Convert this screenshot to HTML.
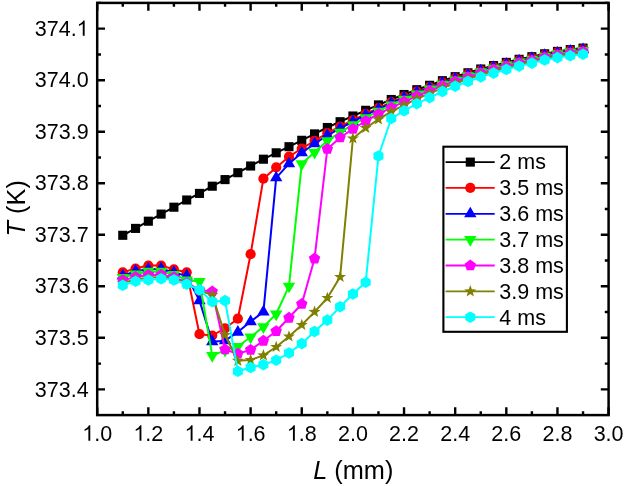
<!DOCTYPE html>
<html><head><meta charset="utf-8"><title>T vs L</title>
<style>html,body{margin:0;padding:0;background:#fff;}body{width:626px;height:486px;overflow:hidden;position:relative;font-family:"Liberation Sans",sans-serif;}</style>
</head><body>
<svg width="626" height="486" viewBox="0 0 626 486" style="position:absolute;left:0;top:0;will-change:transform;transform:translateZ(0)">
<rect width="626" height="486" fill="#fff"/>
<polyline points="122.77,235.30 135.55,228.40 148.34,221.20 161.12,214.10 173.91,207.20 186.70,200.00 199.48,193.40 212.26,186.20 225.05,179.60 237.84,172.70 250.62,166.00 263.40,159.20 276.19,152.80 288.98,146.70 301.76,140.30 314.55,133.90 327.33,127.50 340.12,121.70 352.90,116.00 365.68,110.30 378.47,104.90 391.25,99.50 404.04,94.50 416.82,89.70 429.61,85.30 442.40,80.70 455.18,76.70 467.97,72.80 480.75,69.00 493.53,65.60 506.32,62.40 519.11,59.30 531.89,56.70 544.68,53.80 557.46,51.40 570.25,49.60 583.03,48.10" fill="none" stroke="#000000" stroke-width="2" stroke-linejoin="round"/>
<rect x="118.22" y="230.75" width="9.10" height="9.10" fill="#000000"/>
<rect x="131.00" y="223.85" width="9.10" height="9.10" fill="#000000"/>
<rect x="143.79" y="216.65" width="9.10" height="9.10" fill="#000000"/>
<rect x="156.57" y="209.55" width="9.10" height="9.10" fill="#000000"/>
<rect x="169.36" y="202.65" width="9.10" height="9.10" fill="#000000"/>
<rect x="182.15" y="195.45" width="9.10" height="9.10" fill="#000000"/>
<rect x="194.93" y="188.85" width="9.10" height="9.10" fill="#000000"/>
<rect x="207.71" y="181.65" width="9.10" height="9.10" fill="#000000"/>
<rect x="220.50" y="175.05" width="9.10" height="9.10" fill="#000000"/>
<rect x="233.29" y="168.15" width="9.10" height="9.10" fill="#000000"/>
<rect x="246.07" y="161.45" width="9.10" height="9.10" fill="#000000"/>
<rect x="258.85" y="154.65" width="9.10" height="9.10" fill="#000000"/>
<rect x="271.64" y="148.25" width="9.10" height="9.10" fill="#000000"/>
<rect x="284.43" y="142.15" width="9.10" height="9.10" fill="#000000"/>
<rect x="297.21" y="135.75" width="9.10" height="9.10" fill="#000000"/>
<rect x="310.00" y="129.35" width="9.10" height="9.10" fill="#000000"/>
<rect x="322.78" y="122.95" width="9.10" height="9.10" fill="#000000"/>
<rect x="335.56" y="117.15" width="9.10" height="9.10" fill="#000000"/>
<rect x="348.35" y="111.45" width="9.10" height="9.10" fill="#000000"/>
<rect x="361.13" y="105.75" width="9.10" height="9.10" fill="#000000"/>
<rect x="373.92" y="100.35" width="9.10" height="9.10" fill="#000000"/>
<rect x="386.70" y="94.95" width="9.10" height="9.10" fill="#000000"/>
<rect x="399.49" y="89.95" width="9.10" height="9.10" fill="#000000"/>
<rect x="412.27" y="85.15" width="9.10" height="9.10" fill="#000000"/>
<rect x="425.06" y="80.75" width="9.10" height="9.10" fill="#000000"/>
<rect x="437.85" y="76.15" width="9.10" height="9.10" fill="#000000"/>
<rect x="450.63" y="72.15" width="9.10" height="9.10" fill="#000000"/>
<rect x="463.42" y="68.25" width="9.10" height="9.10" fill="#000000"/>
<rect x="476.20" y="64.45" width="9.10" height="9.10" fill="#000000"/>
<rect x="488.98" y="61.05" width="9.10" height="9.10" fill="#000000"/>
<rect x="501.77" y="57.85" width="9.10" height="9.10" fill="#000000"/>
<rect x="514.56" y="54.75" width="9.10" height="9.10" fill="#000000"/>
<rect x="527.34" y="52.15" width="9.10" height="9.10" fill="#000000"/>
<rect x="540.13" y="49.25" width="9.10" height="9.10" fill="#000000"/>
<rect x="552.91" y="46.85" width="9.10" height="9.10" fill="#000000"/>
<rect x="565.70" y="45.05" width="9.10" height="9.10" fill="#000000"/>
<rect x="578.48" y="43.55" width="9.10" height="9.10" fill="#000000"/>
<polyline points="122.77,272.40 135.55,268.50 148.34,265.50 161.12,265.50 173.91,269.40 186.70,272.30 199.48,334.20 212.26,335.50 225.05,328.30 237.84,318.70 250.62,254.20 263.40,178.70 276.19,167.40 288.98,156.70 301.76,148.50 314.55,140.80 327.33,133.20 340.12,126.50 352.90,120.10 365.68,113.90 378.47,108.10 391.25,102.21 404.04,96.82 416.82,91.72 429.61,87.08 442.40,82.29 455.18,78.15 467.97,74.13 480.75,70.25 493.53,66.78 506.32,63.53 519.11,60.39 531.89,57.76 544.68,54.84 557.46,52.42 570.25,50.61 583.03,49.10" fill="none" stroke="#ff0000" stroke-width="2" stroke-linejoin="round"/>
<circle cx="122.77" cy="272.40" r="5.1" fill="#ff0000"/>
<circle cx="135.55" cy="268.50" r="5.1" fill="#ff0000"/>
<circle cx="148.34" cy="265.50" r="5.1" fill="#ff0000"/>
<circle cx="161.12" cy="265.50" r="5.1" fill="#ff0000"/>
<circle cx="173.91" cy="269.40" r="5.1" fill="#ff0000"/>
<circle cx="186.70" cy="272.30" r="5.1" fill="#ff0000"/>
<circle cx="199.48" cy="334.20" r="5.1" fill="#ff0000"/>
<circle cx="212.26" cy="335.50" r="5.1" fill="#ff0000"/>
<circle cx="225.05" cy="328.30" r="5.1" fill="#ff0000"/>
<circle cx="237.84" cy="318.70" r="5.1" fill="#ff0000"/>
<circle cx="250.62" cy="254.20" r="5.1" fill="#ff0000"/>
<circle cx="263.40" cy="178.70" r="5.1" fill="#ff0000"/>
<circle cx="276.19" cy="167.40" r="5.1" fill="#ff0000"/>
<circle cx="288.98" cy="156.70" r="5.1" fill="#ff0000"/>
<circle cx="301.76" cy="148.50" r="5.1" fill="#ff0000"/>
<circle cx="314.55" cy="140.80" r="5.1" fill="#ff0000"/>
<circle cx="327.33" cy="133.20" r="5.1" fill="#ff0000"/>
<circle cx="340.12" cy="126.50" r="5.1" fill="#ff0000"/>
<circle cx="352.90" cy="120.10" r="5.1" fill="#ff0000"/>
<circle cx="365.68" cy="113.90" r="5.1" fill="#ff0000"/>
<circle cx="378.47" cy="108.10" r="5.1" fill="#ff0000"/>
<circle cx="391.25" cy="102.21" r="5.1" fill="#ff0000"/>
<circle cx="404.04" cy="96.82" r="5.1" fill="#ff0000"/>
<circle cx="416.82" cy="91.72" r="5.1" fill="#ff0000"/>
<circle cx="429.61" cy="87.08" r="5.1" fill="#ff0000"/>
<circle cx="442.40" cy="82.29" r="5.1" fill="#ff0000"/>
<circle cx="455.18" cy="78.15" r="5.1" fill="#ff0000"/>
<circle cx="467.97" cy="74.13" r="5.1" fill="#ff0000"/>
<circle cx="480.75" cy="70.25" r="5.1" fill="#ff0000"/>
<circle cx="493.53" cy="66.78" r="5.1" fill="#ff0000"/>
<circle cx="506.32" cy="63.53" r="5.1" fill="#ff0000"/>
<circle cx="519.11" cy="60.39" r="5.1" fill="#ff0000"/>
<circle cx="531.89" cy="57.76" r="5.1" fill="#ff0000"/>
<circle cx="544.68" cy="54.84" r="5.1" fill="#ff0000"/>
<circle cx="557.46" cy="52.42" r="5.1" fill="#ff0000"/>
<circle cx="570.25" cy="50.61" r="5.1" fill="#ff0000"/>
<circle cx="583.03" cy="49.10" r="5.1" fill="#ff0000"/>
<polyline points="122.77,275.80 135.55,271.20 148.34,269.20 161.12,268.70 173.91,272.50 186.70,275.90 199.48,300.60 212.26,341.70 225.05,340.70 237.84,332.10 250.62,321.60 263.40,311.90 276.19,177.80 288.98,163.70 301.76,152.80 314.55,143.70 327.33,135.50 340.12,128.30 352.90,121.60 365.68,115.10 378.47,109.10 391.25,103.12 404.04,97.66 416.82,92.50 429.61,87.82 442.40,83.00 455.18,78.83 467.97,74.79 480.75,70.89 493.53,67.41 506.32,64.15 519.11,61.00 531.89,58.37 544.68,55.44 557.46,53.02 570.25,51.21 583.03,49.70" fill="none" stroke="#0000ff" stroke-width="2" stroke-linejoin="round"/>
<polygon points="122.77,268.67 128.97,279.37 116.57,279.37" fill="#0000ff"/>
<polygon points="135.55,264.07 141.75,274.77 129.35,274.77" fill="#0000ff"/>
<polygon points="148.34,262.07 154.54,272.77 142.14,272.77" fill="#0000ff"/>
<polygon points="161.12,261.57 167.32,272.27 154.93,272.27" fill="#0000ff"/>
<polygon points="173.91,265.37 180.11,276.07 167.71,276.07" fill="#0000ff"/>
<polygon points="186.70,268.77 192.90,279.47 180.50,279.47" fill="#0000ff"/>
<polygon points="199.48,293.47 205.68,304.17 193.28,304.17" fill="#0000ff"/>
<polygon points="212.26,334.57 218.46,345.27 206.06,345.27" fill="#0000ff"/>
<polygon points="225.05,333.57 231.25,344.27 218.85,344.27" fill="#0000ff"/>
<polygon points="237.84,324.97 244.04,335.67 231.64,335.67" fill="#0000ff"/>
<polygon points="250.62,314.47 256.82,325.17 244.42,325.17" fill="#0000ff"/>
<polygon points="263.40,304.77 269.60,315.47 257.20,315.47" fill="#0000ff"/>
<polygon points="276.19,170.67 282.39,181.37 269.99,181.37" fill="#0000ff"/>
<polygon points="288.98,156.57 295.18,167.27 282.78,167.27" fill="#0000ff"/>
<polygon points="301.76,145.67 307.96,156.37 295.56,156.37" fill="#0000ff"/>
<polygon points="314.55,136.57 320.75,147.27 308.35,147.27" fill="#0000ff"/>
<polygon points="327.33,128.37 333.53,139.07 321.13,139.07" fill="#0000ff"/>
<polygon points="340.12,121.17 346.31,131.87 333.92,131.87" fill="#0000ff"/>
<polygon points="352.90,114.47 359.10,125.17 346.70,125.17" fill="#0000ff"/>
<polygon points="365.68,107.97 371.88,118.67 359.48,118.67" fill="#0000ff"/>
<polygon points="378.47,101.97 384.67,112.67 372.27,112.67" fill="#0000ff"/>
<polygon points="391.25,95.99 397.45,106.69 385.06,106.69" fill="#0000ff"/>
<polygon points="404.04,90.53 410.24,101.23 397.84,101.23" fill="#0000ff"/>
<polygon points="416.82,85.37 423.02,96.07 410.62,96.07" fill="#0000ff"/>
<polygon points="429.61,80.69 435.81,91.39 423.41,91.39" fill="#0000ff"/>
<polygon points="442.40,75.87 448.60,86.57 436.20,86.57" fill="#0000ff"/>
<polygon points="455.18,71.69 461.38,82.39 448.98,82.39" fill="#0000ff"/>
<polygon points="467.97,67.66 474.17,78.36 461.77,78.36" fill="#0000ff"/>
<polygon points="480.75,63.76 486.95,74.46 474.55,74.46" fill="#0000ff"/>
<polygon points="493.53,60.28 499.73,70.98 487.33,70.98" fill="#0000ff"/>
<polygon points="506.32,57.02 512.52,67.72 500.12,67.72" fill="#0000ff"/>
<polygon points="519.11,53.87 525.31,64.57 512.90,64.57" fill="#0000ff"/>
<polygon points="531.89,51.24 538.09,61.94 525.69,61.94" fill="#0000ff"/>
<polygon points="544.68,48.31 550.88,59.01 538.48,59.01" fill="#0000ff"/>
<polygon points="557.46,45.89 563.66,56.59 551.26,56.59" fill="#0000ff"/>
<polygon points="570.25,44.08 576.45,54.78 564.05,54.78" fill="#0000ff"/>
<polygon points="583.03,42.57 589.23,53.27 576.83,53.27" fill="#0000ff"/>
<polyline points="122.77,277.60 135.55,274.00 148.34,271.40 161.12,271.40 173.91,274.60 186.70,280.00 199.48,281.60 212.26,355.60 225.05,350.40 237.84,346.50 250.62,337.00 263.40,326.90 276.19,314.00 288.98,286.20 301.76,163.80 314.55,152.30 327.33,140.80 340.12,132.40 352.90,124.70 365.68,117.70 378.47,111.20 391.25,104.95 404.04,99.29 416.82,93.96 429.61,89.15 442.40,84.22 455.18,79.97 467.97,75.88 480.75,71.92 493.53,68.41 506.32,65.12 519.11,61.95 531.89,59.30 544.68,56.36 557.46,53.93 570.25,52.11 583.03,50.60" fill="none" stroke="#00ff00" stroke-width="2" stroke-linejoin="round"/>
<polygon points="122.77,284.73 128.97,274.03 116.57,274.03" fill="#00ff00"/>
<polygon points="135.55,281.13 141.75,270.43 129.35,270.43" fill="#00ff00"/>
<polygon points="148.34,278.53 154.54,267.83 142.14,267.83" fill="#00ff00"/>
<polygon points="161.12,278.53 167.32,267.83 154.93,267.83" fill="#00ff00"/>
<polygon points="173.91,281.73 180.11,271.03 167.71,271.03" fill="#00ff00"/>
<polygon points="186.70,287.13 192.90,276.43 180.50,276.43" fill="#00ff00"/>
<polygon points="199.48,288.73 205.68,278.03 193.28,278.03" fill="#00ff00"/>
<polygon points="212.26,362.73 218.46,352.03 206.06,352.03" fill="#00ff00"/>
<polygon points="225.05,357.53 231.25,346.83 218.85,346.83" fill="#00ff00"/>
<polygon points="237.84,353.63 244.04,342.93 231.64,342.93" fill="#00ff00"/>
<polygon points="250.62,344.13 256.82,333.43 244.42,333.43" fill="#00ff00"/>
<polygon points="263.40,334.03 269.60,323.33 257.20,323.33" fill="#00ff00"/>
<polygon points="276.19,321.13 282.39,310.43 269.99,310.43" fill="#00ff00"/>
<polygon points="288.98,293.33 295.18,282.63 282.78,282.63" fill="#00ff00"/>
<polygon points="301.76,170.93 307.96,160.23 295.56,160.23" fill="#00ff00"/>
<polygon points="314.55,159.43 320.75,148.73 308.35,148.73" fill="#00ff00"/>
<polygon points="327.33,147.93 333.53,137.23 321.13,137.23" fill="#00ff00"/>
<polygon points="340.12,139.53 346.31,128.83 333.92,128.83" fill="#00ff00"/>
<polygon points="352.90,131.83 359.10,121.13 346.70,121.13" fill="#00ff00"/>
<polygon points="365.68,124.83 371.88,114.13 359.48,114.13" fill="#00ff00"/>
<polygon points="378.47,118.33 384.67,107.63 372.27,107.63" fill="#00ff00"/>
<polygon points="391.25,112.09 397.45,101.39 385.06,101.39" fill="#00ff00"/>
<polygon points="404.04,106.42 410.24,95.72 397.84,95.72" fill="#00ff00"/>
<polygon points="416.82,101.09 423.02,90.39 410.62,90.39" fill="#00ff00"/>
<polygon points="429.61,96.28 435.81,85.58 423.41,85.58" fill="#00ff00"/>
<polygon points="442.40,91.36 448.60,80.66 436.20,80.66" fill="#00ff00"/>
<polygon points="455.18,87.10 461.38,76.40 448.98,76.40" fill="#00ff00"/>
<polygon points="467.97,83.01 474.17,72.31 461.77,72.31" fill="#00ff00"/>
<polygon points="480.75,79.06 486.95,68.36 474.55,68.36" fill="#00ff00"/>
<polygon points="493.53,75.54 499.73,64.84 487.33,64.84" fill="#00ff00"/>
<polygon points="506.32,72.25 512.52,61.55 500.12,61.55" fill="#00ff00"/>
<polygon points="519.11,69.08 525.31,58.38 512.90,58.38" fill="#00ff00"/>
<polygon points="531.89,66.43 538.09,55.73 525.69,55.73" fill="#00ff00"/>
<polygon points="544.68,63.50 550.88,52.80 538.48,52.80" fill="#00ff00"/>
<polygon points="557.46,61.07 563.66,50.37 551.26,50.37" fill="#00ff00"/>
<polygon points="570.25,59.25 576.45,48.55 564.05,48.55" fill="#00ff00"/>
<polygon points="583.03,57.73 589.23,47.03 576.83,47.03" fill="#00ff00"/>
<polyline points="122.77,280.20 135.55,277.10 148.34,275.10 161.12,274.80 173.91,277.20 186.70,283.00 199.48,289.90 212.26,291.50 225.05,349.50 237.84,353.70 250.62,349.90 263.40,340.80 276.19,331.20 288.98,317.80 301.76,304.00 314.55,258.60 327.33,149.00 340.12,137.50 352.90,129.00 365.68,121.00 378.47,114.00 391.25,107.70 404.04,101.80 416.82,96.07 429.61,90.97 442.40,85.83 455.18,81.42 467.97,77.21 480.75,73.18 493.53,69.61 506.32,66.29 519.11,63.09 531.89,60.42 544.68,57.48 557.46,55.04 570.25,53.22 583.03,51.70" fill="none" stroke="#ff00ff" stroke-width="2" stroke-linejoin="round"/>
<polygon points="122.77,274.20 128.48,278.35 126.30,285.05 119.24,285.05 117.06,278.35" fill="#ff00ff"/>
<polygon points="135.55,271.10 141.26,275.25 139.08,281.95 132.03,281.95 129.85,275.25" fill="#ff00ff"/>
<polygon points="148.34,269.10 154.05,273.25 151.87,279.95 144.81,279.95 142.63,273.25" fill="#ff00ff"/>
<polygon points="161.12,268.80 166.83,272.95 164.65,279.65 157.60,279.65 155.42,272.95" fill="#ff00ff"/>
<polygon points="173.91,271.20 179.62,275.35 177.44,282.05 170.38,282.05 168.20,275.35" fill="#ff00ff"/>
<polygon points="186.70,277.00 192.40,281.15 190.22,287.85 183.17,287.85 180.99,281.15" fill="#ff00ff"/>
<polygon points="199.48,283.90 205.19,288.05 203.01,294.75 195.95,294.75 193.77,288.05" fill="#ff00ff"/>
<polygon points="212.26,285.50 217.97,289.65 215.79,296.35 208.74,296.35 206.56,289.65" fill="#ff00ff"/>
<polygon points="225.05,343.50 230.76,347.65 228.58,354.35 221.52,354.35 219.34,347.65" fill="#ff00ff"/>
<polygon points="237.84,347.70 243.54,351.85 241.36,358.55 234.31,358.55 232.13,351.85" fill="#ff00ff"/>
<polygon points="250.62,343.90 256.33,348.05 254.15,354.75 247.09,354.75 244.91,348.05" fill="#ff00ff"/>
<polygon points="263.40,334.80 269.11,338.95 266.93,345.65 259.88,345.65 257.70,338.95" fill="#ff00ff"/>
<polygon points="276.19,325.20 281.90,329.35 279.72,336.05 272.66,336.05 270.48,329.35" fill="#ff00ff"/>
<polygon points="288.98,311.80 294.68,315.95 292.50,322.65 285.45,322.65 283.27,315.95" fill="#ff00ff"/>
<polygon points="301.76,298.00 307.47,302.15 305.29,308.85 298.23,308.85 296.05,302.15" fill="#ff00ff"/>
<polygon points="314.55,252.60 320.25,256.75 318.07,263.45 311.02,263.45 308.84,256.75" fill="#ff00ff"/>
<polygon points="327.33,143.00 333.04,147.15 330.86,153.85 323.80,153.85 321.62,147.15" fill="#ff00ff"/>
<polygon points="340.12,131.50 345.82,135.65 343.64,142.35 336.59,142.35 334.41,135.65" fill="#ff00ff"/>
<polygon points="352.90,123.00 358.61,127.15 356.43,133.85 349.37,133.85 347.19,127.15" fill="#ff00ff"/>
<polygon points="365.68,115.00 371.39,119.15 369.21,125.85 362.16,125.85 359.98,119.15" fill="#ff00ff"/>
<polygon points="378.47,108.00 384.18,112.15 382.00,118.85 374.94,118.85 372.76,112.15" fill="#ff00ff"/>
<polygon points="391.25,101.70 396.96,105.85 394.78,112.55 387.73,112.55 385.55,105.85" fill="#ff00ff"/>
<polygon points="404.04,95.80 409.75,99.95 407.57,106.65 400.51,106.65 398.33,99.95" fill="#ff00ff"/>
<polygon points="416.82,90.07 422.53,94.22 420.35,100.93 413.30,100.93 411.12,94.22" fill="#ff00ff"/>
<polygon points="429.61,84.97 435.32,89.11 433.14,95.82 426.08,95.82 423.90,89.11" fill="#ff00ff"/>
<polygon points="442.40,79.83 448.10,83.97 445.92,90.68 438.87,90.68 436.69,83.97" fill="#ff00ff"/>
<polygon points="455.18,75.42 460.89,79.57 458.71,86.28 451.65,86.28 449.47,79.57" fill="#ff00ff"/>
<polygon points="467.97,71.21 473.67,75.36 471.49,82.07 464.44,82.07 462.26,75.36" fill="#ff00ff"/>
<polygon points="480.75,67.18 486.46,71.33 484.28,78.04 477.22,78.04 475.04,71.33" fill="#ff00ff"/>
<polygon points="493.53,63.61 499.24,67.76 497.06,74.47 490.01,74.47 487.83,67.76" fill="#ff00ff"/>
<polygon points="506.32,60.29 512.03,64.43 509.85,71.14 502.79,71.14 500.61,64.43" fill="#ff00ff"/>
<polygon points="519.11,57.09 524.81,61.24 522.63,67.95 515.58,67.95 513.40,61.24" fill="#ff00ff"/>
<polygon points="531.89,54.42 537.60,58.57 535.42,65.28 528.36,65.28 526.18,58.57" fill="#ff00ff"/>
<polygon points="544.68,51.48 550.38,55.62 548.20,62.33 541.15,62.33 538.97,55.62" fill="#ff00ff"/>
<polygon points="557.46,49.04 563.17,53.19 560.99,59.89 553.93,59.89 551.75,53.19" fill="#ff00ff"/>
<polygon points="570.25,47.22 575.95,51.36 573.77,58.07 566.72,58.07 564.54,51.36" fill="#ff00ff"/>
<polygon points="583.03,45.70 588.74,49.85 586.56,56.55 579.50,56.55 577.32,49.85" fill="#ff00ff"/>
<polyline points="122.77,283.00 135.55,279.40 148.34,277.70 161.12,277.00 173.91,278.70 186.70,283.80 199.48,290.20 212.26,295.00 225.05,335.00 237.84,360.80 250.62,360.00 263.40,355.40 276.19,347.00 288.98,336.50 301.76,325.00 314.55,311.90 327.33,298.00 340.12,277.00 352.90,138.50 365.68,128.00 378.47,119.40 391.25,111.70 404.04,105.10 416.82,98.85 429.61,93.34 442.40,87.90 455.18,83.26 467.97,78.88 480.75,74.72 493.53,71.05 506.32,67.65 519.11,64.40 531.89,61.69 544.68,58.72 557.46,56.26 570.25,54.43 583.03,52.90" fill="none" stroke="#808000" stroke-width="2" stroke-linejoin="round"/>
<polygon points="122.77,276.70 124.30,280.90 128.76,281.05 125.24,283.80 126.47,288.10 122.77,285.60 119.07,288.10 120.30,283.80 116.78,281.05 121.24,280.90" fill="#808000"/>
<polygon points="135.55,273.10 137.08,277.30 141.55,277.45 138.03,280.20 139.26,284.50 135.55,282.00 131.85,284.50 133.08,280.20 129.56,277.45 134.03,277.30" fill="#808000"/>
<polygon points="148.34,271.40 149.87,275.60 154.33,275.75 150.81,278.50 152.04,282.80 148.34,280.30 144.64,282.80 145.87,278.50 142.35,275.75 146.81,275.60" fill="#808000"/>
<polygon points="161.12,270.70 162.65,274.90 167.12,275.05 163.60,277.80 164.83,282.10 161.12,279.60 157.42,282.10 158.65,277.80 155.13,275.05 159.60,274.90" fill="#808000"/>
<polygon points="173.91,272.40 175.44,276.60 179.90,276.75 176.38,279.50 177.61,283.80 173.91,281.30 170.21,283.80 171.44,279.50 167.92,276.75 172.38,276.60" fill="#808000"/>
<polygon points="186.70,277.50 188.22,281.70 192.69,281.85 189.17,284.60 190.40,288.90 186.70,286.40 182.99,288.90 184.22,284.60 180.70,281.85 185.17,281.70" fill="#808000"/>
<polygon points="199.48,283.90 201.01,288.10 205.47,288.25 201.95,291.00 203.18,295.30 199.48,292.80 195.78,295.30 197.01,291.00 193.49,288.25 197.95,288.10" fill="#808000"/>
<polygon points="212.26,288.70 213.79,292.90 218.26,293.05 214.74,295.80 215.97,300.10 212.26,297.60 208.56,300.10 209.79,295.80 206.27,293.05 210.74,292.90" fill="#808000"/>
<polygon points="225.05,328.70 226.58,332.90 231.04,333.05 227.52,335.80 228.75,340.10 225.05,337.60 221.35,340.10 222.58,335.80 219.06,333.05 223.52,332.90" fill="#808000"/>
<polygon points="237.84,354.50 239.36,358.70 243.83,358.85 240.31,361.60 241.54,365.90 237.84,363.40 234.13,365.90 235.36,361.60 231.84,358.85 236.31,358.70" fill="#808000"/>
<polygon points="250.62,353.70 252.15,357.90 256.61,358.05 253.09,360.80 254.32,365.10 250.62,362.60 246.92,365.10 248.15,360.80 244.63,358.05 249.09,357.90" fill="#808000"/>
<polygon points="263.40,349.10 264.93,353.30 269.40,353.45 265.88,356.20 267.11,360.50 263.40,358.00 259.70,360.50 260.93,356.20 257.41,353.45 261.88,353.30" fill="#808000"/>
<polygon points="276.19,340.70 277.72,344.90 282.18,345.05 278.66,347.80 279.89,352.10 276.19,349.60 272.49,352.10 273.72,347.80 270.20,345.05 274.66,344.90" fill="#808000"/>
<polygon points="288.98,330.20 290.50,334.40 294.97,334.55 291.45,337.30 292.68,341.60 288.98,339.10 285.27,341.60 286.50,337.30 282.98,334.55 287.45,334.40" fill="#808000"/>
<polygon points="301.76,318.70 303.29,322.90 307.75,323.05 304.23,325.80 305.46,330.10 301.76,327.60 298.06,330.10 299.29,325.80 295.77,323.05 300.23,322.90" fill="#808000"/>
<polygon points="314.55,305.60 316.07,309.80 320.54,309.95 317.02,312.70 318.25,317.00 314.55,314.50 310.84,317.00 312.07,312.70 308.55,309.95 313.02,309.80" fill="#808000"/>
<polygon points="327.33,291.70 328.86,295.90 333.32,296.05 329.80,298.80 331.03,303.10 327.33,300.60 323.63,303.10 324.86,298.80 321.34,296.05 325.80,295.90" fill="#808000"/>
<polygon points="340.12,270.70 341.64,274.90 346.11,275.05 342.59,277.80 343.82,282.10 340.12,279.60 336.41,282.10 337.64,277.80 334.12,275.05 338.59,274.90" fill="#808000"/>
<polygon points="352.90,132.20 354.43,136.40 358.89,136.55 355.37,139.30 356.60,143.60 352.90,141.10 349.20,143.60 350.43,139.30 346.91,136.55 351.37,136.40" fill="#808000"/>
<polygon points="365.68,121.70 367.21,125.90 371.68,126.05 368.16,128.80 369.39,133.10 365.68,130.60 361.98,133.10 363.21,128.80 359.69,126.05 364.16,125.90" fill="#808000"/>
<polygon points="378.47,113.10 380.00,117.30 384.46,117.45 380.94,120.20 382.17,124.50 378.47,122.00 374.77,124.50 376.00,120.20 372.48,117.45 376.94,117.30" fill="#808000"/>
<polygon points="391.25,105.40 392.78,109.60 397.25,109.75 393.73,112.50 394.96,116.80 391.25,114.30 387.55,116.80 388.78,112.50 385.26,109.75 389.73,109.60" fill="#808000"/>
<polygon points="404.04,98.80 405.57,103.00 410.03,103.15 406.51,105.90 407.74,110.20 404.04,107.70 400.34,110.20 401.57,105.90 398.05,103.15 402.51,103.00" fill="#808000"/>
<polygon points="416.82,92.55 418.35,96.74 422.82,96.90 419.30,99.65 420.53,103.94 416.82,101.45 413.12,103.94 414.35,99.65 410.83,96.90 415.30,96.74" fill="#808000"/>
<polygon points="429.61,87.04 431.14,91.24 435.60,91.39 432.08,94.14 433.31,98.44 429.61,95.94 425.91,98.44 427.14,94.14 423.62,91.39 428.08,91.24" fill="#808000"/>
<polygon points="442.40,81.60 443.92,85.79 448.39,85.95 444.87,88.70 446.10,92.99 442.40,90.50 438.69,92.99 439.92,88.70 436.40,85.95 440.87,85.79" fill="#808000"/>
<polygon points="455.18,76.96 456.71,81.15 461.17,81.31 457.65,84.06 458.88,88.35 455.18,85.86 451.48,88.35 452.71,84.06 449.19,81.31 453.65,81.15" fill="#808000"/>
<polygon points="467.97,72.58 469.49,76.77 473.96,76.93 470.44,79.68 471.67,83.97 467.97,81.48 464.26,83.97 465.49,79.68 461.97,76.93 466.44,76.77" fill="#808000"/>
<polygon points="480.75,68.42 482.28,72.61 486.74,72.77 483.22,75.52 484.45,79.81 480.75,77.32 477.05,79.81 478.28,75.52 474.76,72.77 479.22,72.61" fill="#808000"/>
<polygon points="493.53,64.75 495.06,68.94 499.53,69.10 496.01,71.85 497.24,76.14 493.53,73.65 489.83,76.14 491.06,71.85 487.54,69.10 492.01,68.94" fill="#808000"/>
<polygon points="506.32,61.35 507.85,65.54 512.31,65.70 508.79,68.45 510.02,72.74 506.32,70.25 502.62,72.74 503.85,68.45 500.33,65.70 504.79,65.54" fill="#808000"/>
<polygon points="519.11,58.10 520.63,62.30 525.10,62.45 521.58,65.20 522.81,69.50 519.11,67.00 515.40,69.50 516.63,65.20 513.11,62.45 517.58,62.30" fill="#808000"/>
<polygon points="531.89,55.39 533.42,59.59 537.88,59.75 534.36,62.50 535.59,66.79 531.89,64.29 528.19,66.79 529.42,62.50 525.90,59.75 530.36,59.59" fill="#808000"/>
<polygon points="544.68,52.42 546.20,56.61 550.67,56.77 547.15,59.52 548.38,63.81 544.68,61.32 540.97,63.81 542.20,59.52 538.68,56.77 543.15,56.61" fill="#808000"/>
<polygon points="557.46,49.96 558.99,54.16 563.45,54.32 559.93,57.07 561.16,61.36 557.46,58.86 553.76,61.36 554.99,57.07 551.47,54.32 555.93,54.16" fill="#808000"/>
<polygon points="570.25,48.13 571.77,52.32 576.24,52.48 572.72,55.23 573.95,59.52 570.25,57.03 566.54,59.52 567.77,55.23 564.25,52.48 568.72,52.32" fill="#808000"/>
<polygon points="583.03,46.60 584.56,50.80 589.02,50.95 585.50,53.70 586.73,58.00 583.03,55.50 579.33,58.00 580.56,53.70 577.04,50.95 581.50,50.80" fill="#808000"/>
<polyline points="122.77,285.30 135.55,281.30 148.34,280.00 161.12,278.80 173.91,280.00 186.70,284.10 199.48,289.80 212.26,301.70 225.05,300.60 237.84,371.30 250.62,367.50 263.40,364.60 276.19,360.20 288.98,353.00 301.76,343.60 314.55,331.50 327.33,320.10 340.12,306.70 352.90,294.00 365.68,282.30 378.47,156.00 391.25,118.50 404.04,110.80 416.82,103.70 429.61,97.60 442.40,91.50 455.18,86.30 467.97,81.50 480.75,76.90 493.53,73.10 506.32,69.50 519.11,66.10 531.89,63.10 544.68,60.00 557.46,57.60 570.25,55.80 583.03,54.30" fill="none" stroke="#00ffff" stroke-width="2" stroke-linejoin="round"/>
<polygon points="122.77,279.50 127.79,282.40 127.79,288.20 122.77,291.10 117.75,288.20 117.75,282.40" fill="#00ffff"/>
<polygon points="135.55,275.50 140.58,278.40 140.58,284.20 135.55,287.10 130.53,284.20 130.53,278.40" fill="#00ffff"/>
<polygon points="148.34,274.20 153.36,277.10 153.36,282.90 148.34,285.80 143.32,282.90 143.32,277.10" fill="#00ffff"/>
<polygon points="161.12,273.00 166.15,275.90 166.15,281.70 161.12,284.60 156.10,281.70 156.10,275.90" fill="#00ffff"/>
<polygon points="173.91,274.20 178.93,277.10 178.93,282.90 173.91,285.80 168.89,282.90 168.89,277.10" fill="#00ffff"/>
<polygon points="186.70,278.30 191.72,281.20 191.72,287.00 186.70,289.90 181.67,287.00 181.67,281.20" fill="#00ffff"/>
<polygon points="199.48,284.00 204.50,286.90 204.50,292.70 199.48,295.60 194.46,292.70 194.46,286.90" fill="#00ffff"/>
<polygon points="212.26,295.90 217.29,298.80 217.29,304.60 212.26,307.50 207.24,304.60 207.24,298.80" fill="#00ffff"/>
<polygon points="225.05,294.80 230.07,297.70 230.07,303.50 225.05,306.40 220.03,303.50 220.03,297.70" fill="#00ffff"/>
<polygon points="237.84,365.50 242.86,368.40 242.86,374.20 237.84,377.10 232.81,374.20 232.81,368.40" fill="#00ffff"/>
<polygon points="250.62,361.70 255.64,364.60 255.64,370.40 250.62,373.30 245.60,370.40 245.60,364.60" fill="#00ffff"/>
<polygon points="263.40,358.80 268.43,361.70 268.43,367.50 263.40,370.40 258.38,367.50 258.38,361.70" fill="#00ffff"/>
<polygon points="276.19,354.40 281.21,357.30 281.21,363.10 276.19,366.00 271.17,363.10 271.17,357.30" fill="#00ffff"/>
<polygon points="288.98,347.20 294.00,350.10 294.00,355.90 288.98,358.80 283.95,355.90 283.95,350.10" fill="#00ffff"/>
<polygon points="301.76,337.80 306.78,340.70 306.78,346.50 301.76,349.40 296.74,346.50 296.74,340.70" fill="#00ffff"/>
<polygon points="314.55,325.70 319.57,328.60 319.57,334.40 314.55,337.30 309.52,334.40 309.52,328.60" fill="#00ffff"/>
<polygon points="327.33,314.30 332.35,317.20 332.35,323.00 327.33,325.90 322.31,323.00 322.31,317.20" fill="#00ffff"/>
<polygon points="340.12,300.90 345.14,303.80 345.14,309.60 340.12,312.50 335.09,309.60 335.09,303.80" fill="#00ffff"/>
<polygon points="352.90,288.20 357.92,291.10 357.92,296.90 352.90,299.80 347.88,296.90 347.88,291.10" fill="#00ffff"/>
<polygon points="365.68,276.50 370.71,279.40 370.71,285.20 365.68,288.10 360.66,285.20 360.66,279.40" fill="#00ffff"/>
<polygon points="378.47,150.20 383.49,153.10 383.49,158.90 378.47,161.80 373.45,158.90 373.45,153.10" fill="#00ffff"/>
<polygon points="391.25,112.70 396.28,115.60 396.28,121.40 391.25,124.30 386.23,121.40 386.23,115.60" fill="#00ffff"/>
<polygon points="404.04,105.00 409.06,107.90 409.06,113.70 404.04,116.60 399.02,113.70 399.02,107.90" fill="#00ffff"/>
<polygon points="416.82,97.90 421.85,100.80 421.85,106.60 416.82,109.50 411.80,106.60 411.80,100.80" fill="#00ffff"/>
<polygon points="429.61,91.80 434.63,94.70 434.63,100.50 429.61,103.40 424.59,100.50 424.59,94.70" fill="#00ffff"/>
<polygon points="442.40,85.70 447.42,88.60 447.42,94.40 442.40,97.30 437.37,94.40 437.37,88.60" fill="#00ffff"/>
<polygon points="455.18,80.50 460.20,83.40 460.20,89.20 455.18,92.10 450.16,89.20 450.16,83.40" fill="#00ffff"/>
<polygon points="467.97,75.70 472.99,78.60 472.99,84.40 467.97,87.30 462.94,84.40 462.94,78.60" fill="#00ffff"/>
<polygon points="480.75,71.10 485.77,74.00 485.77,79.80 480.75,82.70 475.73,79.80 475.73,74.00" fill="#00ffff"/>
<polygon points="493.53,67.30 498.56,70.20 498.56,76.00 493.53,78.90 488.51,76.00 488.51,70.20" fill="#00ffff"/>
<polygon points="506.32,63.70 511.34,66.60 511.34,72.40 506.32,75.30 501.30,72.40 501.30,66.60" fill="#00ffff"/>
<polygon points="519.11,60.30 524.13,63.20 524.13,69.00 519.11,71.90 514.08,69.00 514.08,63.20" fill="#00ffff"/>
<polygon points="531.89,57.30 536.91,60.20 536.91,66.00 531.89,68.90 526.87,66.00 526.87,60.20" fill="#00ffff"/>
<polygon points="544.68,54.20 549.70,57.10 549.70,62.90 544.68,65.80 539.65,62.90 539.65,57.10" fill="#00ffff"/>
<polygon points="557.46,51.80 562.48,54.70 562.48,60.50 557.46,63.40 552.44,60.50 552.44,54.70" fill="#00ffff"/>
<polygon points="570.25,50.00 575.27,52.90 575.27,58.70 570.25,61.60 565.22,58.70 565.22,52.90" fill="#00ffff"/>
<polygon points="583.03,48.50 588.05,51.40 588.05,57.20 583.03,60.10 578.01,57.20 578.01,51.40" fill="#00ffff"/>
<rect x="97.20" y="2.90" width="511.40" height="412.20" fill="none" stroke="#000" stroke-width="2.5"/>
<path d="M97.20 415.10v-7.80M97.20 2.90v7.80M122.77 415.10v-3.80M122.77 2.90v3.80M148.34 415.10v-7.80M148.34 2.90v7.80M173.91 415.10v-3.80M173.91 2.90v3.80M199.48 415.10v-7.80M199.48 2.90v7.80M225.05 415.10v-3.80M225.05 2.90v3.80M250.62 415.10v-7.80M250.62 2.90v7.80M276.19 415.10v-3.80M276.19 2.90v3.80M301.76 415.10v-7.80M301.76 2.90v7.80M327.33 415.10v-3.80M327.33 2.90v3.80M352.90 415.10v-7.80M352.90 2.90v7.80M378.47 415.10v-3.80M378.47 2.90v3.80M404.04 415.10v-7.80M404.04 2.90v7.80M429.61 415.10v-3.80M429.61 2.90v3.80M455.18 415.10v-7.80M455.18 2.90v7.80M480.75 415.10v-3.80M480.75 2.90v3.80M506.32 415.10v-7.80M506.32 2.90v7.80M531.89 415.10v-3.80M531.89 2.90v3.80M557.46 415.10v-7.80M557.46 2.90v7.80M583.03 415.10v-3.80M583.03 2.90v3.80M608.60 415.10v-7.80M608.60 2.90v7.80M97.20 389.34h7.80M608.60 389.34h-7.80M97.20 363.58h3.80M608.60 363.58h-3.80M97.20 337.81h7.80M608.60 337.81h-7.80M97.20 312.05h3.80M608.60 312.05h-3.80M97.20 286.29h7.80M608.60 286.29h-7.80M97.20 260.53h3.80M608.60 260.53h-3.80M97.20 234.76h7.80M608.60 234.76h-7.80M97.20 209.00h3.80M608.60 209.00h-3.80M97.20 183.24h7.80M608.60 183.24h-7.80M97.20 157.48h3.80M608.60 157.48h-3.80M97.20 131.71h7.80M608.60 131.71h-7.80M97.20 105.95h3.80M608.60 105.95h-3.80M97.20 80.19h7.80M608.60 80.19h-7.80M97.20 54.43h3.80M608.60 54.43h-3.80M97.20 28.66h7.80M608.60 28.66h-7.80M97.20 2.90h3.80M608.60 2.90h-3.80" stroke="#000" stroke-width="2.4" fill="none"/>
<g font-family="Liberation Sans, sans-serif" font-size="21.5" fill="#000">
<path transform="translate(82.26,440.80) scale(0.010498,-0.010498)" d="M763 0H583V1147Q518 1085 412.5 1023Q307 961 223 930V1104Q374 1175 487 1276Q600 1377 647 1472H763Z"/>
<text x="94.21" y="440.8">.0</text>
<path transform="translate(133.40,440.80) scale(0.010498,-0.010498)" d="M763 0H583V1147Q518 1085 412.5 1023Q307 961 223 930V1104Q374 1175 487 1276Q600 1377 647 1472H763Z"/>
<text x="145.35" y="440.8">.2</text>
<path transform="translate(184.54,440.80) scale(0.010498,-0.010498)" d="M763 0H583V1147Q518 1085 412.5 1023Q307 961 223 930V1104Q374 1175 487 1276Q600 1377 647 1472H763Z"/>
<text x="196.49" y="440.8">.4</text>
<path transform="translate(235.68,440.80) scale(0.010498,-0.010498)" d="M763 0H583V1147Q518 1085 412.5 1023Q307 961 223 930V1104Q374 1175 487 1276Q600 1377 647 1472H763Z"/>
<text x="247.63" y="440.8">.6</text>
<path transform="translate(286.82,440.80) scale(0.010498,-0.010498)" d="M763 0H583V1147Q518 1085 412.5 1023Q307 961 223 930V1104Q374 1175 487 1276Q600 1377 647 1472H763Z"/>
<text x="298.77" y="440.8">.8</text>
<text x="352.90" y="440.8" text-anchor="middle">2.0</text>
<text x="404.04" y="440.8" text-anchor="middle">2.2</text>
<text x="455.18" y="440.8" text-anchor="middle">2.4</text>
<text x="506.32" y="440.8" text-anchor="middle">2.6</text>
<text x="557.46" y="440.8" text-anchor="middle">2.8</text>
<text x="608.60" y="440.8" text-anchor="middle">3.0</text>
<text x="88.6" y="396.54" text-anchor="end">373.4</text>
<text x="88.6" y="345.01" text-anchor="end">373.5</text>
<text x="88.6" y="293.49" text-anchor="end">373.6</text>
<text x="88.6" y="241.96" text-anchor="end">373.7</text>
<text x="88.6" y="190.44" text-anchor="end">373.8</text>
<text x="88.6" y="138.91" text-anchor="end">373.9</text>
<text x="88.6" y="87.39" text-anchor="end">374.0</text>
<path transform="translate(76.64,35.86) scale(0.010498,-0.010498)" d="M763 0H583V1147Q518 1085 412.5 1023Q307 961 223 930V1104Q374 1175 487 1276Q600 1377 647 1472H763Z"/>
<text x="76.64" y="35.86" text-anchor="end">374.</text>
</g>
<g font-family="Liberation Sans, sans-serif" font-size="25.3" fill="#000">
<text x="353.3" y="478.8" text-anchor="middle"><tspan font-style="italic">L</tspan> (mm)</text>
<text transform="translate(25.2,208.3) rotate(-90)" text-anchor="middle"><tspan font-style="italic">T</tspan> (K)</text>
</g>
<rect x="443.4" y="146.7" width="123.5" height="185.1" fill="#fff" stroke="#000" stroke-width="2.1"/>
<g font-family="Liberation Sans, sans-serif" font-size="21.5" fill="#000">
<path d="M445.6 162.10H494.7" stroke="#000000" stroke-width="1.8"/>
<rect x="465.75" y="157.55" width="9.10" height="9.10" fill="#000000"/>
<text x="499.3" y="169.40">2 ms</text>
<path d="M445.6 187.95H494.7" stroke="#ff0000" stroke-width="1.8"/>
<circle cx="470.30" cy="187.95" r="5.1" fill="#ff0000"/>
<text x="499.3" y="195.25">3.5 ms</text>
<path d="M445.6 213.80H494.7" stroke="#0000ff" stroke-width="1.8"/>
<polygon points="470.30,206.67 476.50,217.37 464.10,217.37" fill="#0000ff"/>
<text x="499.3" y="221.10">3.6 ms</text>
<path d="M445.6 239.65H494.7" stroke="#00ff00" stroke-width="1.8"/>
<polygon points="470.30,246.78 476.50,236.08 464.10,236.08" fill="#00ff00"/>
<text x="499.3" y="246.95">3.7 ms</text>
<path d="M445.6 265.50H494.7" stroke="#ff00ff" stroke-width="1.8"/>
<polygon points="470.30,259.50 476.01,263.65 473.83,270.35 466.77,270.35 464.59,263.65" fill="#ff00ff"/>
<text x="499.3" y="272.80">3.8 ms</text>
<path d="M445.6 291.35H494.7" stroke="#808000" stroke-width="1.8"/>
<polygon points="470.30,285.05 471.83,289.25 476.29,289.40 472.77,292.15 474.00,296.45 470.30,293.95 466.60,296.45 467.83,292.15 464.31,289.40 468.77,289.25" fill="#808000"/>
<text x="499.3" y="298.65">3.9 ms</text>
<path d="M445.6 317.20H494.7" stroke="#00ffff" stroke-width="1.8"/>
<polygon points="470.30,311.40 475.32,314.30 475.32,320.10 470.30,323.00 465.28,320.10 465.28,314.30" fill="#00ffff"/>
<text x="499.3" y="324.50">4 ms</text>
</g>
</svg>
</body></html>
